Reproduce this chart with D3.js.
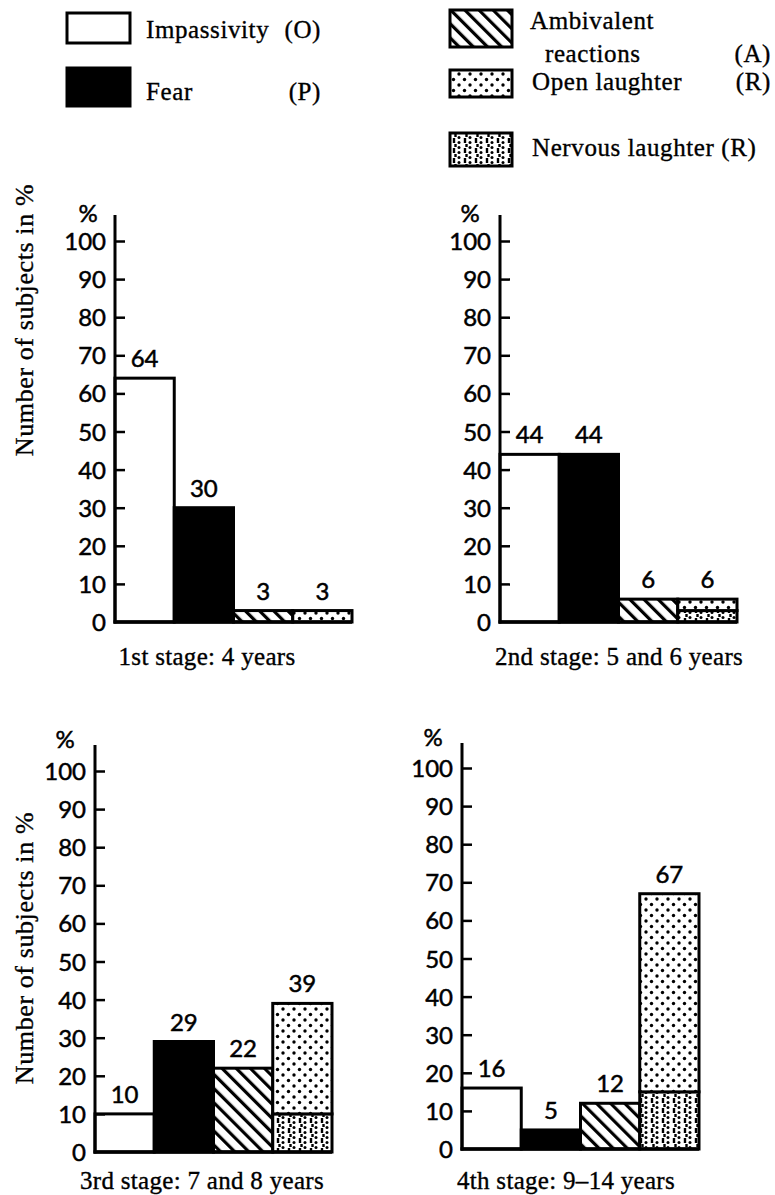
<!DOCTYPE html>
<html><head><meta charset="utf-8">
<script src="https://cdn.jsdelivr.net/npm/d3@7"></script>
<style>
body{margin:0;background:#fff;}
svg{display:block;}
.serif{font-family:"Liberation Serif","Times New Roman",serif;fill:#000;stroke:#000;stroke-width:0.35px;}
.sans{font-family:Lato,"DejaVu Sans",sans-serif;fill:#000;stroke:#000;stroke-width:0.5px;}
</style></head>
<body>
<svg id="c" width="775" height="1195"></svg>
<script>
// ---- data ----
const categories = ["O","P","A","R"];
const stageLabels = ["1st stage: 4 years","2nd stage: 5 and 6 years","3rd stage: 7 and 8 years","4th stage: 9–14 years"];
const impassivity = [64,44,10,16];
const fear = [30,44,29,5];
const ambivalent = [3,6,22,12];
const nervousLaughter = [0,3,10,15];
const openLaughter = [3,3,29,52];
const yTicks = [0,10,20,30,40,50,60,70,80,90,100];
const legendLabels = ["Impassivity","Fear","Ambivalent","reactions","Open laughter","Nervous laughter (R)"];

// ---- layout ----
const panels = [
  {ax:115, zero:622, top:215, pctX:88,  pctY:222, labX:207, labY:665, title:true},
  {ax:500, zero:622, top:215, pctX:470, pctY:222, labX:619, labY:665, title:false},
  {ax:95,  zero:1152,top:745, pctX:65,  pctY:748, labX:202, labY:1189, title:true},
  {ax:462, zero:1149,top:743, pctX:433, pctY:746, labX:566, labY:1189, title:false}
];
const svg = d3.select("#c");
const defs = svg.append("defs");

// patterns
const pA = defs.append("pattern").attr("id","pA").attr("patternUnits","userSpaceOnUse")
  .attr("width",10).attr("height",10).attr("patternTransform","rotate(-45)");
pA.append("rect").attr("width",10).attr("height",10).attr("fill","#fff");
pA.append("rect").attr("x",0).attr("y",0).attr("width",3.2).attr("height",10).attr("fill","#000");

const pR = defs.append("pattern").attr("id","pR").attr("patternUnits","userSpaceOnUse")
  .attr("width",11).attr("height",11);
pR.append("rect").attr("width",11).attr("height",11).attr("fill","#fff");
pR.append("circle").attr("cx",2.5).attr("cy",2.5).attr("r",1.7).attr("fill","#000");
pR.append("circle").attr("cx",8).attr("cy",8).attr("r",1.7).attr("fill","#000");

const pN = defs.append("pattern").attr("id","pN").attr("patternUnits","userSpaceOnUse")
  .attr("width",11).attr("height",10);
pN.append("rect").attr("width",11).attr("height",10).attr("fill","#fff");
pN.append("path").attr("d","M3,0 L3,3 M4.5,4 L4.5,7 M3,8 L3,10").attr("stroke","#000").attr("stroke-width",2.4).attr("fill","none");
pN.append("circle").attr("cx",8).attr("cy",2.5).attr("r",1.5).attr("fill","#000");
pN.append("circle").attr("cx",8).attr("cy",7.5).attr("r",1.5).attr("fill","#000");

const fills = {O:"#fff",P:"#000",A:"url(#pA)",R:"url(#pR)",N:"url(#pN)"};

// ---- legend ----
const lg = svg.append("g");
const legendBoxes = [
  {x:67,y:13,w:63,h:30,f:fills.O},
  {x:67,y:68,w:63,h:38,f:fills.P},
  {x:450,y:10,w:62,h:37,f:fills.A},
  {x:450,y:70,w:62,h:27,f:fills.R},
  {x:450,y:133,w:62,h:33,f:fills.N}
];
lg.selectAll("rect").data(legendBoxes).join("rect")
  .attr("x",d=>d.x).attr("y",d=>d.y).attr("width",d=>d.w).attr("height",d=>d.h)
  .attr("fill",d=>d.f).attr("stroke","#000").attr("stroke-width",3);
const legendTexts = [
  {t:legendLabels[0],x:146,y:38,a:"start"},{t:"(O)",x:321,y:38,a:"end"},
  {t:legendLabels[1],x:146,y:100,a:"start"},{t:"(P)",x:321,y:100,a:"end"},
  {t:legendLabels[2],x:530,y:29,a:"start"},{t:legendLabels[3],x:545,y:62,a:"start"},{t:"(A)",x:771,y:62,a:"end"},
  {t:legendLabels[4],x:532,y:90,a:"start"},{t:"(R)",x:771,y:90,a:"end"},
  {t:legendLabels[5],x:532,y:156,a:"start"}
];
lg.selectAll("text").data(legendTexts).join("text").attr("class","serif")
  .attr("x",d=>d.x).attr("y",d=>d.y).attr("text-anchor",d=>d.a)
  .style("font-size","25px").style("letter-spacing","0.6px").text(d=>d.t);

// ---- panels ----
panels.forEach((p,i)=>{
  const g = svg.append("g");
  const y = d3.scaleLinear().domain([0,100]).range([p.zero, p.zero-381]);
  const x = d3.scaleBand().domain(categories).range([p.ax, p.ax+237]).paddingInner(0).paddingOuter(0);
  const segs = [
    {c:"O",y0:0,y1:impassivity[i],f:fills.O},
    {c:"P",y0:0,y1:fear[i],f:fills.P},
    {c:"A",y0:0,y1:ambivalent[i],f:fills.A},
    {c:"R",y0:0,y1:nervousLaughter[i],f:fills.N},
    {c:"R",y0:nervousLaughter[i],y1:nervousLaughter[i]+openLaughter[i],f:fills.R}
  ].filter(d=>d.y1>d.y0);
  g.selectAll("rect.bar").data(segs).join("rect").attr("class","bar")
    .attr("x",d=>x(d.c)).attr("width",x.bandwidth())
    .attr("y",d=>y(d.y1)).attr("height",d=>y(d.y0)-y(d.y1))
    .attr("fill",d=>d.f).attr("stroke","#000").attr("stroke-width",3);

  // axis
  const axis = d3.axisRight(y).tickValues(yTicks).tickSize(10).tickFormat("");
  const ag = g.append("g").attr("transform",`translate(${p.ax},0)`).call(axis);
  ag.select(".domain").remove();
  ag.selectAll(".tick line").attr("stroke","#000").attr("stroke-width",2.5);
  ag.selectAll(".tick").filter(d=>d===0).select("line").remove();
  g.append("line").attr("x1",p.ax).attr("x2",p.ax).attr("y1",p.top).attr("y2",p.zero+1.5)
    .attr("stroke","#000").attr("stroke-width",3);
  g.append("line").attr("x1",p.ax-1.5).attr("x2",p.ax+237).attr("y1",p.zero).attr("y2",p.zero)
    .attr("stroke","#000").attr("stroke-width",3.5);
  g.selectAll("text.tl").data(yTicks).join("text").attr("class","sans tl")
    .attr("x",p.ax-9).attr("y",d=>y(d)+9).attr("text-anchor","end")
    .style("font-size","24px").text(d=>d);
  g.append("text").attr("class","sans").attr("x",p.pctX).attr("y",p.pctY)
    .attr("text-anchor","middle").style("font-size","24px").text("%");

  // value labels
  const totals = [impassivity[i],fear[i],ambivalent[i],nervousLaughter[i]+openLaughter[i]];
  g.selectAll("text.vl").data(categories).join("text").attr("class","sans vl")
    .attr("x",c=>x(c)+x.bandwidth()/2).attr("y",(c,k)=>y(totals[k])-11)
    .attr("text-anchor","middle").style("font-size","24px").text((c,k)=>totals[k]);

  g.append("text").attr("class","serif").attr("x",p.labX).attr("y",p.labY)
    .attr("text-anchor","middle").style("font-size","25px").style("letter-spacing","0.3px").text(stageLabels[i]);

  if(p.title){
    g.append("text").attr("class","serif")
      .attr("transform",`translate(33,${i===0?320:948}) rotate(-90)`)
      .attr("text-anchor","middle").style("font-size","26px").style("letter-spacing","0.6px").text("Number of subjects in %");
  }
});
</script>
</body></html>
